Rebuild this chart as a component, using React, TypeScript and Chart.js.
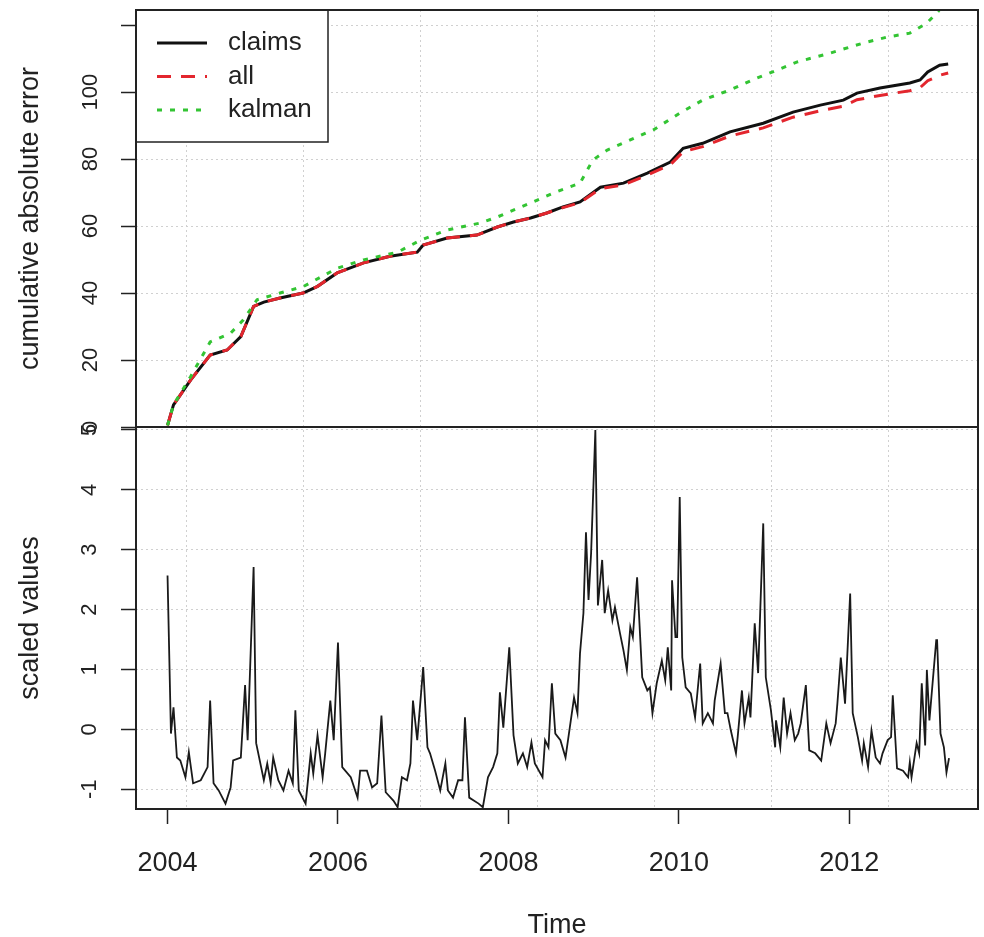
import React, { useEffect, useRef } from 'react';
import { Chart, registerables } from 'chart.js';

Chart.register(...registerables);

// ---------------- data ----------------
// top panel: cumulative absolute error (decimal years)
const topYears = [2004.00, 2004.07, 2004.27, 2004.50, 2004.70, 2004.86, 2005.01, 2005.13, 2005.32, 2005.59, 2005.76, 2005.99, 2006.30, 2006.61, 2006.93, 2007.00, 2007.28, 2007.63, 2007.87, 2008.06, 2008.26, 2008.45, 2008.64, 2008.84, 2009.08, 2009.35, 2009.63, 2009.90, 2010.05, 2010.28, 2010.60, 2010.99, 2011.34, 2011.66, 2011.93, 2012.09, 2012.36, 2012.71, 2012.83, 2012.92, 2013.06, 2013.16];
const claimsCum = [0.5, 6.6, 14, 21.5, 23, 27, 36, 37.3, 38.5, 40, 42, 46, 49, 51, 52.2, 54.3, 56.4, 57.3, 59.7, 61.2, 62.4, 63.9, 65.7, 67.2, 71.6, 72.8, 75.8, 79.1, 83.2, 84.7, 88.1, 90.7, 94.0, 96.1, 97.6, 99.7, 101.2, 102.7, 103.6, 106, 108, 108.4];
const allCum = [0.5, 6.6, 14, 21.5, 23, 27, 36, 37.3, 38.5, 40, 42, 46, 49, 51, 52.2, 54.3, 56.4, 57.3, 59.7, 61.2, 62.4, 63.9, 65.5, 67.0, 71.2, 72.3, 75.2, 78.3, 82.2, 83.7, 86.9, 89.3, 92.5, 94.4, 95.8, 97.7, 99.0, 100.4, 101.3, 103.4, 105.0, 105.7];
const kalmanYears = [2004.00, 2004.07, 2004.27, 2004.50, 2004.74, 2004.89, 2005.05, 2005.32, 2005.59, 2005.99, 2006.30, 2006.70, 2006.97, 2007.28, 2007.67, 2007.87, 2008.26, 2008.53, 2008.84, 2008.99, 2009.16, 2009.43, 2009.70, 2010.01, 2010.28, 2010.60, 2010.92, 2011.39, 2011.77, 2012.16, 2012.44, 2012.71, 2012.91, 2013.04, 2013.16];
const kalmanCum = [0.5, 6.6, 15, 25.4, 28, 32, 38, 40, 41.9, 47.4, 49.9, 52.2, 55.8, 58.8, 60.9, 62.7, 66.9, 69.9, 72.8, 79.7, 82.7, 85.7, 88.7, 93.7, 97.6, 100.6, 104.2, 109, 111.6, 114.6, 116.4, 117.6, 120.6, 124, 128];

// bottom panel: scaled values
const bottomYears = [
  2004.00, 2004.04, 2004.07, 2004.11, 2004.15, 2004.21, 2004.25, 2004.30, 2004.39, 2004.47,
  2004.50, 2004.54, 2004.60, 2004.68, 2004.74, 2004.77, 2004.86, 2004.91, 2004.94, 2005.01,
  2005.04, 2005.13, 2005.17, 2005.21, 2005.24, 2005.30, 2005.36, 2005.42, 2005.47, 2005.50,
  2005.54, 2005.62, 2005.68, 2005.71, 2005.76, 2005.82, 2005.85, 2005.91, 2005.95, 2006.00,
  2006.05, 2006.15, 2006.23, 2006.26, 2006.34, 2006.40, 2006.46, 2006.51, 2006.56, 2006.65,
  2006.70, 2006.75, 2006.81, 2006.85, 2006.88, 2006.93, 2007.00, 2007.05, 2007.08, 2007.14,
  2007.20, 2007.26, 2007.29, 2007.35, 2007.41, 2007.46, 2007.49, 2007.54, 2007.65, 2007.70,
  2007.76, 2007.82, 2007.87, 2007.90, 2007.94, 2008.01, 2008.06, 2008.11, 2008.17, 2008.22,
  2008.27, 2008.31, 2008.40, 2008.43, 2008.47, 2008.51, 2008.55, 2008.61, 2008.67, 2008.72,
  2008.77, 2008.81, 2008.84, 2008.88, 2008.91, 2008.94, 2008.97, 2009.02, 2009.05, 2009.10,
  2009.13, 2009.17, 2009.22, 2009.25, 2009.31, 2009.35, 2009.39, 2009.43, 2009.46, 2009.51,
  2009.57, 2009.63, 2009.66, 2009.69, 2009.74, 2009.80, 2009.84, 2009.87, 2009.91, 2009.92,
  2009.96, 2009.98, 2010.01, 2010.04, 2010.08, 2010.14, 2010.19, 2010.25, 2010.28, 2010.34,
  2010.40, 2010.42, 2010.49, 2010.54, 2010.57, 2010.61, 2010.67, 2010.69, 2010.74, 2010.77,
  2010.82, 2010.84, 2010.89, 2010.93, 2010.99, 2011.02, 2011.08, 2011.13, 2011.14, 2011.19,
  2011.23, 2011.27, 2011.31, 2011.36, 2011.40, 2011.43, 2011.49, 2011.53, 2011.60, 2011.67,
  2011.73, 2011.78, 2011.84, 2011.86, 2011.90, 2011.95, 2012.01, 2012.04, 2012.10, 2012.15,
  2012.17, 2012.22, 2012.26, 2012.31, 2012.36, 2012.39, 2012.45, 2012.49, 2012.51, 2012.56,
  2012.63, 2012.69, 2012.71, 2012.73, 2012.79, 2012.82, 2012.85, 2012.89, 2012.91, 2012.94,
  2013.02, 2013.03, 2013.07, 2013.11, 2013.14, 2013.17
];
const bottomValues = [
  2.57, -0.07, 0.37, -0.47, -0.52, -0.80, -0.38, -0.90, -0.85, -0.63,
  0.48, -0.90, -1.02, -1.24, -0.97, -0.52, -0.47, 0.74, -0.18, 2.71,
  -0.23, -0.85, -0.57, -0.89, -0.47, -0.85, -1.02, -0.69, -0.90, 0.32,
  -1.02, -1.24, -0.40, -0.74, -0.10, -0.80, -0.40, 0.48, -0.18, 1.45,
  -0.63, -0.80, -1.14, -0.69, -0.69, -0.97, -0.90, 0.23, -1.05, -1.19,
  -1.30, -0.80, -0.85, -0.57, 0.48, -0.18, 1.04, -0.30, -0.40, -0.69,
  -1.02, -0.57, -1.02, -1.14, -0.85, -0.85, 0.20, -1.14, -1.24, -1.30,
  -0.80, -0.63, -0.40, 0.62, 0.03, 1.37, -0.10, -0.57, -0.40, -0.63,
  -0.22, -0.57, -0.80, -0.18, -0.30, 0.77, -0.07, -0.18, -0.47, 0.03,
  0.53, 0.27, 1.27, 1.94, 3.29, 2.16, 2.94, 5.00, 2.07, 2.83,
  1.94, 2.32, 1.82, 2.04, 1.60, 1.32, 0.99, 1.71, 1.54, 2.54,
  0.87, 0.65, 0.70, 0.27, 0.77, 1.15, 0.82, 1.37, 0.65, 2.49,
  1.54, 1.54, 3.88, 1.20, 0.70, 0.60, 0.20, 1.10, 0.10, 0.27,
  0.10, 0.48, 1.10, 0.27, 0.27, -0.02, -0.40, -0.13, 0.65, 0.10,
  0.53, 0.20, 1.77, 0.94, 3.44, 0.87, 0.32, -0.30, 0.15, -0.30,
  0.53, -0.07, 0.27, -0.18, -0.07, 0.10, 0.74, -0.35, -0.40, -0.52,
  0.10, -0.23, 0.10, 0.43, 1.20, 0.43, 2.27, 0.27, -0.13, -0.52,
  -0.23, -0.63, -0.02, -0.47, -0.57, -0.40, -0.18, -0.13, 0.57, -0.65,
  -0.69, -0.80, -0.55, -0.80, -0.23, -0.40, 0.77, -0.27, 0.99, 0.15,
  1.49, 1.49, -0.07, -0.30, -0.72, -0.48
];

// axes
const xTicks = [2004, 2006, 2008, 2010, 2012];
const xTickLabels = ['2004', '2006', '2008', '2010', '2012'];
const gridYears = [2004.22, 2005.59, 2006.97, 2008.34, 2009.71, 2011.09, 2012.46];
const topTicks = [0, 20, 40, 60, 80, 100, 120];
const topTickLabels = ['0', '20', '40', '60', '80', '100', ''];
const bottomTicks = [-1, 0, 1, 2, 3, 4, 5];
const bottomTickLabels = ['-1', '0', '1', '2', '3', '4', '5'];
const legendLabels = ['claims', 'all', 'kalman'];

const FONT = '"Liberation Sans", Arial, Helvetica, sans-serif';
const INK = '#222222';
const GRID = '#d0d0d0';

const toPoints = (xs: number[], ys: number[]) => xs.map((x, i) => ({ x, y: ys[i] }));

const legendPlugin = {
  id: 'boxLegend',
  afterDatasetsDraw(chart: any) {
    const { ctx, chartArea } = chart;
    const x0 = chartArea.left;
    const y0 = chartArea.top;
    const w = 192;
    const h = 132;
    ctx.save();
    ctx.fillStyle = '#ffffff';
    ctx.fillRect(x0, y0, w, h);
    ctx.strokeStyle = INK;
    ctx.lineWidth = 1.5;
    ctx.strokeRect(x0, y0, w, h);
    legendLabels.forEach((lab, i) => {
      const ds = chart.data.datasets.find((d: any) => d.label === lab);
      if (!ds) return;
      const y = y0 + 33 + i * 33.5;
      ctx.strokeStyle = ds.borderColor;
      ctx.lineWidth = ds.borderWidth;
      ctx.setLineDash(ds.borderDash || []);
      ctx.beginPath();
      ctx.moveTo(x0 + 21, y);
      ctx.lineTo(x0 + 71, y);
      ctx.stroke();
      ctx.setLineDash([]);
      ctx.fillStyle = INK;
      ctx.font = '26px ' + FONT;
      ctx.textBaseline = 'middle';
      ctx.textAlign = 'left';
      ctx.fillText(lab, x0 + 92, y);
    });
    ctx.restore();
  },
};

const panelBoxPlugin = {
  id: 'panelBox',
  afterDraw(chart: any) {
    const { ctx, chartArea } = chart;
    ctx.save();
    ctx.strokeStyle = INK;
    ctx.lineWidth = 2;
    ['y', 'y2'].forEach((id) => {
      const s = chart.scales[id];
      ctx.strokeRect(chartArea.left, s.top, chartArea.right - chartArea.left, s.bottom - s.top);
    });
    ctx.restore();
  },
};

export default function App() {
  const ref = useRef<HTMLCanvasElement>(null);

  useEffect(() => {
    document.body.style.margin = '0';
    Chart.defaults.font.family = FONT;
    Chart.defaults.color = INK;

    const xMin = 2003.63;
    const xMax = 2013.51;

    const chart = new Chart(ref.current as HTMLCanvasElement, {
      type: 'line',
      data: {
        datasets: [
          {
            label: 'claims',
            data: toPoints(topYears, claimsCum),
            xAxisID: 'x',
            yAxisID: 'y',
            borderColor: '#111111',
            borderWidth: 3,
            pointRadius: 0,
            tension: 0,
            order: 3,
          },
          {
            label: 'all',
            data: toPoints(topYears, allCum),
            xAxisID: 'x',
            yAxisID: 'y',
            borderColor: '#e3262e',
            borderWidth: 3,
            borderDash: [14, 10],
            pointRadius: 0,
            tension: 0,
            order: 2,
          },
          {
            label: 'kalman',
            data: toPoints(kalmanYears, kalmanCum),
            xAxisID: 'x',
            yAxisID: 'y',
            borderColor: '#33c433',
            borderWidth: 3,
            borderDash: [5, 8],
            pointRadius: 0,
            tension: 0,
            order: 1,
          },
          {
            label: 'scaled',
            data: toPoints(bottomYears, bottomValues),
            xAxisID: 'x',
            yAxisID: 'y2',
            borderColor: '#1a1a1a',
            borderWidth: 1.8,
            pointRadius: 0,
            tension: 0,
            order: 4,
          },
        ],
      },
      options: {
        responsive: false,
        animation: false,
        devicePixelRatio: 1,
        events: [],
        layout: { padding: { top: 10, right: 6, bottom: 0, left: 0 } },
        plugins: {
          legend: { display: false },
          tooltip: { enabled: false },
        },
        scales: {
          x: {
            type: 'linear',
            position: 'bottom',
            min: xMin,
            max: xMax,
            afterBuildTicks: (s: any) => {
              s.ticks = xTicks.map((v) => ({ value: v }));
            },
            afterFit: (s: any) => {
              s.height = 128;
              s.paddingLeft = 0;
              s.paddingRight = 0;
            },
            ticks: {
              autoSkip: false,
              maxRotation: 0,
              minRotation: 0,
              padding: 23,
              font: { size: 27 },
              color: INK,
              callback: (_v: any, i: number) => xTickLabels[i],
            },
            grid: {
              drawOnChartArea: false,
              drawTicks: true,
              tickLength: 15,
              tickColor: INK,
              tickWidth: 1.5,
              color: INK,
            },
            border: { display: false },
            title: {
              display: true,
              text: 'Time',
              font: { size: 27, lineHeight: 0.85 },
              padding: { top: 0, bottom: 0 },
              color: INK,
            },
          },
          xg: {
            type: 'linear',
            position: 'bottom',
            min: xMin,
            max: xMax,
            afterBuildTicks: (s: any) => {
              s.ticks = gridYears.map((v) => ({ value: v }));
            },
            afterFit: (s: any) => {
              s.height = 0;
              s.paddingLeft = 0;
              s.paddingRight = 0;
            },
            ticks: { display: false },
            grid: { color: GRID, lineWidth: 1, drawTicks: false, drawOnChartArea: true },
            border: { display: false, dash: [2, 3] },
          },
          y: {
            type: 'linear',
            position: 'left',
            stack: 'panels',
            stackWeight: 417,
            weight: 1,
            min: 0,
            max: 124.5,
            afterBuildTicks: (s: any) => {
              s.ticks = topTicks.map((v) => ({ value: v }));
            },
            afterFit: (s: any) => {
              s.width = 136;
              s.paddingTop = 0;
              s.paddingBottom = 0;
            },
            ticks: {
              autoSkip: false,
              minRotation: 90,
              maxRotation: 90,
              crossAlign: 'center',
              padding: 12,
              font: { size: 22 },
              color: INK,
              callback: (_v: any, i: number) => topTickLabels[i],
            },
            grid: { color: GRID, lineWidth: 1, tickColor: INK, tickLength: 15, tickWidth: 1.5 },
            border: { display: false, dash: [2, 3] },
            title: {
              display: true,
              text: 'cumulative absolute error',
              font: { size: 27 },
              padding: { top: 14, bottom: 0 },
              color: INK,
            },
          },
          y2: {
            type: 'linear',
            position: 'left',
            stack: 'panels',
            stackWeight: 382,
            weight: 0,
            min: -1.33,
            max: 5.05,
            afterBuildTicks: (s: any) => {
              s.ticks = bottomTicks.map((v) => ({ value: v }));
            },
            afterFit: (s: any) => {
              s.width = 136;
              s.paddingTop = 0;
              s.paddingBottom = 0;
            },
            ticks: {
              autoSkip: false,
              minRotation: 90,
              maxRotation: 90,
              crossAlign: 'center',
              padding: 21,
              font: { size: 22 },
              color: INK,
              callback: (_v: any, i: number) => bottomTickLabels[i],
            },
            grid: { color: GRID, lineWidth: 1, tickColor: INK, tickLength: 15, tickWidth: 1.5 },
            border: { display: false, dash: [2, 3] },
            title: {
              display: true,
              text: 'scaled values',
              font: { size: 27 },
              padding: { top: 14, bottom: 0 },
              color: INK,
            },
          },
        },
      } as any,
      plugins: [legendPlugin, panelBoxPlugin],
    } as any);

    return () => chart.destroy();
  }, []);

  return (
    <div style={{ width: 984, height: 937, background: '#ffffff' }}>
      <canvas ref={ref} width={984} height={937} style={{ display: 'block' }} />
    </div>
  );
}
